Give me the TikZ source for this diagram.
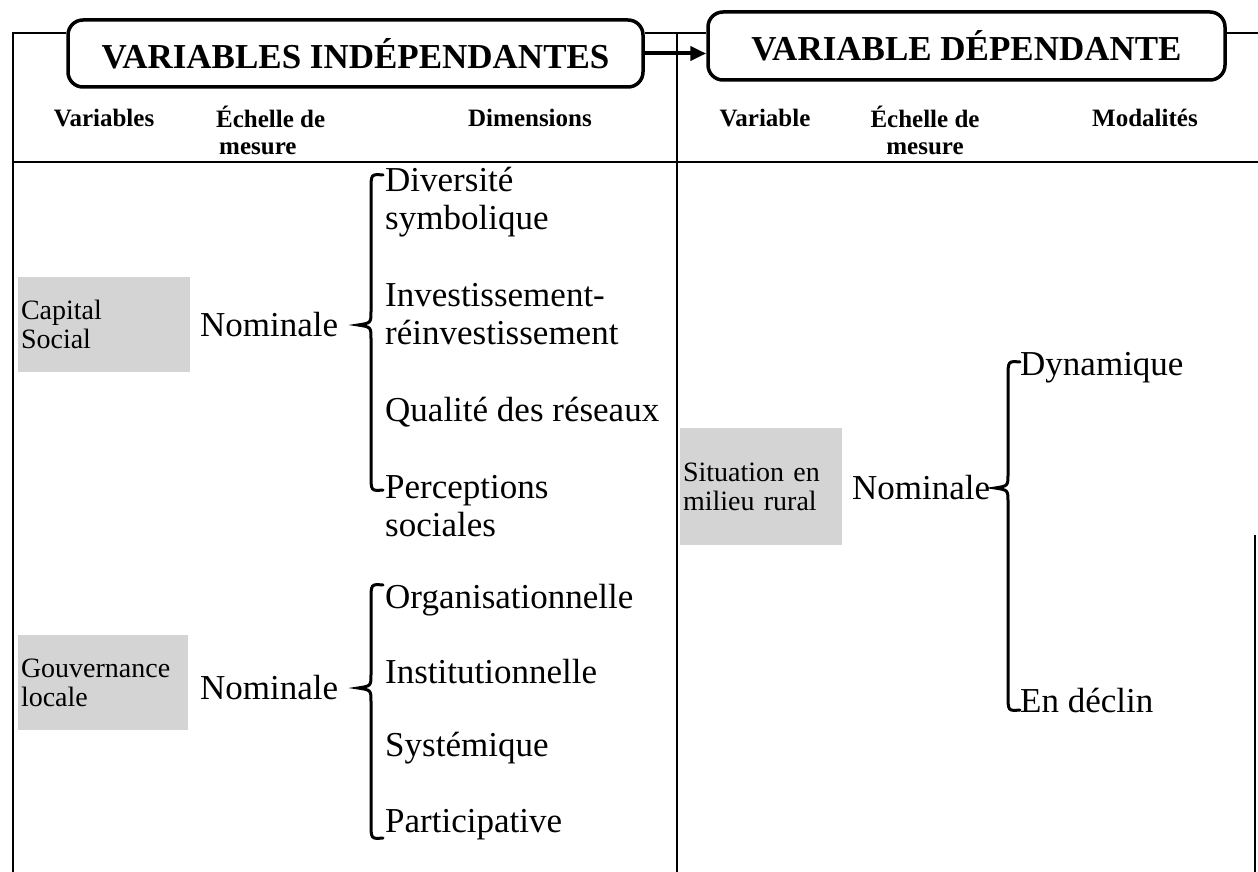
\documentclass[tikz,border=0pt]{standalone}
\usepackage{fontspec}
\setmainfont{Liberation Serif}
\usetikzlibrary{arrows.meta}

% curly brace with its point at (#1,#3), running from #2 down to #4
\newcommand\drawbrace[4]{%
  \draw[curly] (#1+25,#2) .. controls (#1+13,#2-1) .. (#1+13,#2+16)
    -- (#1+13,#3-14) .. controls (#1+13,#3-2) .. (#1,#3)
    .. controls (#1+13,#3+2) .. (#1+13,#3+14)
    -- (#1+13,#4-16) .. controls (#1+13,#4+1) .. (#1+25,#4);}

\begin{document}
\begin{tikzpicture}[x=1pt,y=-1pt,
  frame/.style={line width=1.8pt},
  titlebox/.style={draw, line width=3.5pt, rounded corners=15pt,
    font=\fontsize{35}{40}\selectfont\bfseries, inner sep=0pt},
  head/.style={font=\fontsize{25}{27}\selectfont\bfseries, align=center, inner sep=0pt},
  item/.style={font=\fontsize{35}{38}\selectfont, align=left, anchor=west, inner sep=0pt},
  shadebox/.style={fill=black!17, font=\fontsize{28}{29}\selectfont, align=left,
    inner xsep=3pt, inner ysep=0pt},
  curly/.style={line width=3pt, line cap=round}
]
\useasboundingbox (0,0) rectangle (1258,872);

% title boxes
\node[titlebox, minimum width=575pt, minimum height=67pt] (indep) at (355.5,53.5)
  {VARIABLES INDÉPENDANTES};
\node[titlebox, minimum width=517pt, minimum height=68pt] (dep) at (966.5,46)
  {VARIABLE DÉPENDANTE};

% frame and rules
\coordinate (tl) at (13,33);
\coordinate (bl) at (13,872);
\coordinate (divtop) at (677,33);
\coordinate (divbot) at (677,872);
\coordinate (tr) at (1258,33);
\coordinate (hl) at (13,162);
\coordinate (hr) at (1258,162);
\coordinate (rtop) at (1255,535);
\coordinate (rbot) at (1255,872);

\draw[frame] (bl) -- (tl) -- (tl -| indep.west);
\draw[frame] (tl -| indep.east) -- (tl -| dep.west);
\draw[frame] (tl -| dep.east) -- (tr);
\draw[frame] (divtop) -- (divbot);
\draw[frame] (hl) -- (hr);
\draw[frame] (rtop) -- (rbot);
\draw[line width=4pt, -{Triangle[length=16pt,width=14pt]}]
  (indep.east) -- (indep.east -| dep.west);

% column headers
\node[head] (hvar1) at (104,118) {Variables};
\node[head, align=left, anchor=west] (hech1) at (216,130) {Échelle de\\\hspace*{3pt}mesure};
\node[head] (hdim1) at (530,118) {Dimensions};
\node[head] (hvar2) at (765,118) {Variable};
\node[head] (hech2) at (925,130) {Échelle de\\mesure};
\node[head] (hmod2) at (1145,118) {Modalités};

% capital social
\node[shadebox, text width=166pt, minimum height=95pt] (cap) at (104,324.5)
  {Capital\\Social};
\node[item] (nom1) at (200,325) {Nominale};
\drawbrace{358}{175}{325}{490}
\node[item] (d1) at (385,202.5) {Diversité\\symbolique};
\node[item] (d2) at (385,314.5) {Investissement-\\réinvestissement};
\node[item] (d3) at (385,412) {Qualité des réseaux};
\node[item] (d4) at (385,506) {Perceptions\\sociales};

% gouvernance locale
\node[shadebox, text width=164pt, minimum height=95pt] (gouv) at (103,682.5)
  {Gouvernance\\locale};
\node[item] (nom2) at (200,688) {Nominale};
\drawbrace{358}{585}{688}{838}
\node[item] (g1) at (385,600) {Organisationnelle};
\node[item] (g2) at (385,672) {Institutionnelle};
\node[item] (g3) at (385,748) {Systémique};
\node[item] (g4) at (385,825) {Participative};

% situation en milieu rural
\node[shadebox, text width=156pt, minimum height=117pt] (sit) at (761,486.5)
  {Situation en\\milieu rural};
\node[item] (nom3) at (852,488) {Nominale};
\drawbrace{995}{362}{488}{710}
\node[item] (m1) at (1020,368) {Dynamique};
\node[item] (m2) at (1020,700) {En déclin};
\end{tikzpicture}
\end{document}
